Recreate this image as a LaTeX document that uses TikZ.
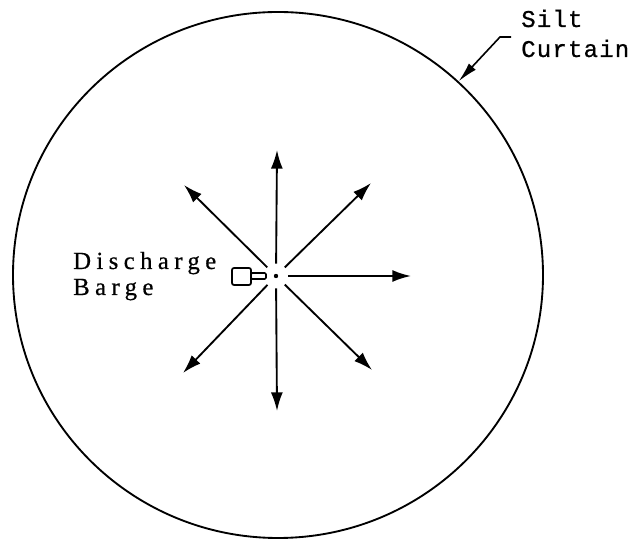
\documentclass[tikz,border=0pt]{standalone}
\usepackage{fontspec}
\usetikzlibrary{arrows.meta,shapes.geometric}
\newfontfamily\labelfont[LetterSpace=22,FakeBold=0.6]{Liberation Serif}
\newfontfamily\typefont[LetterSpace=5,FakeBold=0.8]{Liberation Mono}

\tikzset{
  spoke/.style={-{Latex[length=14pt,width=9pt]}, line width=1.4pt},
  leader/.style={-{Latex[length=15pt,width=7pt]}, line width=1.2pt},
  lbl/.style={inner sep=0pt, anchor=base west}
}

\begin{document}
\begin{tikzpicture}[x=0.75pt, y=-0.75pt]
    \useasboundingbox (0,0) rectangle (637,541);

    % Silt curtain
    \node[draw, ellipse, line width=1.4pt, inner sep=0pt,
          minimum width=397.5pt, minimum height=394.5pt] (curtain) at (278,275) {};
    \node[lbl, font=\typefont\fontsize{18}{22}\selectfont] (silt) at (521,27) {Silt};
    \node[lbl, font=\typefont\fontsize{18}{22}\selectfont] (curt) at (521,57) {Curtain};
    \coordinate (kinkend) at (511,37);
    \coordinate (kink) at (500,37);
    \draw[leader] (kinkend) -- (kink) -- (curtain.47);

    % Discharge point
    \node[circle, inner sep=0pt, minimum size=18pt] (src) at (276,276) {};
    \fill (src.center) circle (2.2);

    % Spreading directions
    \coordinate (tipN) at (277,150);
    \coordinate (tipS) at (277,411);
    \coordinate (tipE) at (411,276);
    \coordinate (tipNE) at (371,183);
    \coordinate (tipNW) at (184,185);
    \coordinate (tipSW) at (183,373);
    \coordinate (tipSE) at (372,370);
    \draw[spoke] (src) -- (tipN);
    \draw[spoke] (src) -- (tipS);
    \draw[spoke] (src) -- (tipE);
    \draw[spoke] (src) -- (tipNE);
    \draw[spoke] (src) -- (tipNW);
    \draw[spoke] (src) -- (tipSW);
    \draw[spoke] (src) -- (tipSE);

    % Barge
    \draw[line width=1.3pt, rounded corners=1.5pt] (232,268) rectangle (251,285);
    \draw[line width=1.2pt, rounded corners=1pt] (251,273) rectangle (266,279);
    \node[lbl, font=\labelfont\fontsize{18.5}{22}\selectfont] (dis) at (73,269) {Discharge};
    \node[lbl, font=\labelfont\fontsize{18.5}{22}\selectfont] (barge) at (73,295) {Barge};
\end{tikzpicture}
\end{document}
